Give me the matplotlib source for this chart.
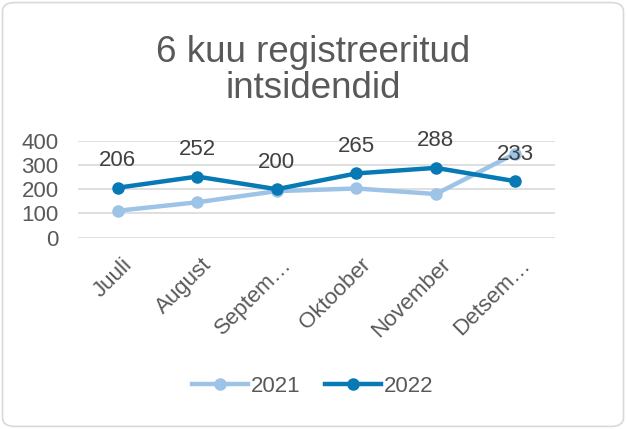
import matplotlib.pyplot as plt
import matplotlib.transforms as mtransforms
from matplotlib.patches import FancyBboxPatch

months = ['Juuli', 'August', 'Septem…', 'Oktoober', 'November', 'Detsem…']
values_2021 = [111, 146, 192, 203, 180, 347]
values_2022 = [206, 252, 200, 265, 288, 233]

plt.rcParams['font.family'] = ['Liberation Sans', 'DejaVu Sans']
text_color = '#595959'

fig = plt.figure(figsize=(6.26, 4.29), dpi=100)
border = FancyBboxPatch((0.004, 0.006), 0.992, 0.988,
                        boxstyle='round,pad=0,rounding_size=0.02',
                        transform=fig.transFigure, facecolor='white',
                        edgecolor='#D9D9D9', linewidth=1.2, zorder=-10)
fig.patches.append(border)

ax = fig.add_axes([0.1246, 0.446, 0.762, 0.226])
ax.patch.set_visible(False)
x = range(len(months))
ax.plot(x, values_2021, color='#9DC3E6', linewidth=3.2, marker='o',
        markersize=8, label='2021', zorder=3)
ax.plot(x, values_2022, color='#0779B5', linewidth=3.2, marker='o',
        markersize=8, label='2022', zorder=4)

for i, v in enumerate(values_2022):
    ax.annotate(str(v), (i, v), xytext=(0, 12), textcoords='offset points',
                ha='center', va='bottom', fontsize=16, color='#404040')

ax.set_xlim(-0.5, len(months) - 0.5)
ax.set_ylim(0, 400)
ax.set_yticks([0, 100, 200, 300, 400])
ax.set_xticks(list(x))
ax.set_xticklabels(months, rotation=45, ha='right', rotation_mode='anchor')
ax.tick_params(axis='both', length=0, labelsize=16, labelcolor=text_color)
ax.tick_params(axis='x', pad=12)
ax.tick_params(axis='y', pad=14)
shift = mtransforms.ScaledTranslation(3 / 72, 0, fig.dpi_scale_trans)
for lbl in ax.get_xticklabels():
    lbl.set_transform(lbl.get_transform() + shift)
ax.grid(axis='y', color='#D9D9D9', linewidth=1.2)
ax.set_axisbelow(True)
for side in ax.spines.values():
    side.set_visible(False)

fig.text(0.5, 0.835, '6 kuu registreeritud\nintsidendid', ha='center',
         va='center', fontsize=26.5, color=text_color, linespacing=1.05)

fig.legend(loc='center', bbox_to_anchor=(0.5, 0.1), ncol=2, frameon=False,
           fontsize=16, labelcolor=text_color, handlelength=2.5,
           columnspacing=1.1, handletextpad=0.15)

fig.savefig('out.png', dpi=100)
